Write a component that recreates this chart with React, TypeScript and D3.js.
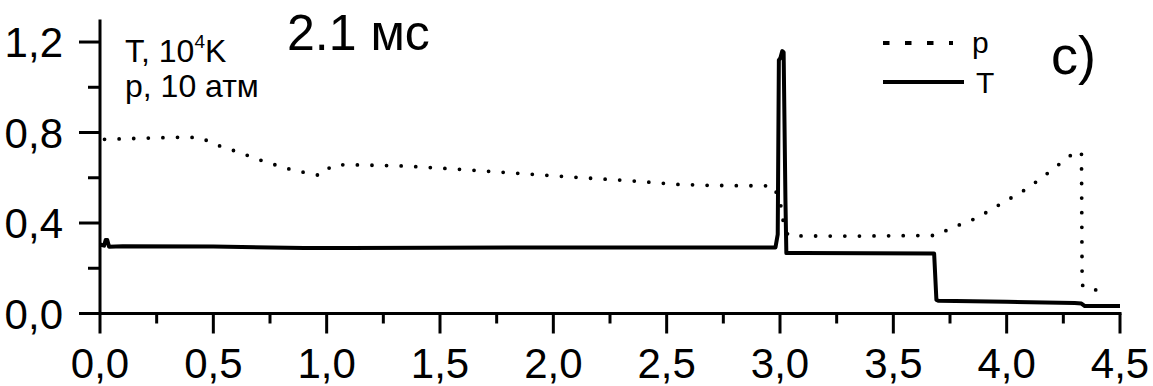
import { useMemo } from "react";
import * as d3 from "d3";

// T, 10^4 K (solid)
const tTime = [0, 0.018, 0.025, 0.032, 0.04, 0.1, 0.5, 0.9, 1.1, 2.0, 2.98, 2.99, 2.995, 3.002, 3.01, 3.016, 3.024, 3.028, 3.1, 3.68, 3.69, 3.7, 4.0, 4.3, 4.33, 4.345, 4.5];
const tValue = [0.305, 0.3, 0.325, 0.325, 0.295, 0.297, 0.296, 0.289, 0.29, 0.292, 0.292, 0.35, 1.12, 1.13, 1.16, 1.155, 0.5, 0.267, 0.267, 0.265, 0.06, 0.056, 0.052, 0.046, 0.044, 0.033, 0.033];

// p, 10 atm (dotted)
const pTime = [0.02, 0.2, 0.38, 0.45, 0.5, 0.62, 0.73, 0.85, 0.96, 0.98, 1.02, 1.08, 1.34, 1.59, 1.84, 2.1, 2.35, 2.54, 2.7, 2.97, 3.0, 3.02, 3.04, 3.3, 3.69, 3.75, 3.87, 3.98, 4.09, 4.19, 4.29, 4.33, 4.333, 4.36, 4.45];
const pValue = [0.77, 0.775, 0.78, 0.775, 0.75, 0.71, 0.67, 0.634, 0.612, 0.612, 0.652, 0.658, 0.652, 0.637, 0.62, 0.602, 0.586, 0.571, 0.566, 0.564, 0.5, 0.37, 0.343, 0.342, 0.345, 0.375, 0.423, 0.488, 0.552, 0.627, 0.705, 0.715, 0.126, 0.104, 0.104];

const xMajor = [0, 0.5, 1, 1.5, 2, 2.5, 3, 3.5, 4, 4.5];
const xMinor = [0.25, 0.75, 1.25, 1.75, 2.25, 2.75, 3.25, 3.75, 4.25];
const yMajor = [0, 0.4, 0.8, 1.2];
const yMinor = [0.2, 0.6, 1.0];

const fmt = (v: number) => v.toFixed(1).replace(".", ",");
const font = "'Liberation Sans', Arial, sans-serif";

export default function App() {
  const width = 1153;
  const height = 386;

  const x = d3.scaleLinear().domain([0, 4.5]).range([100, 1120]);
  const y = d3.scaleLinear().domain([0, 1.3]).range([313.5, 19.4]);

  const line = d3.line<[number, number]>()
    .x(d => x(d[0]))
    .y(d => y(d[1]));

  const tPath = useMemo(() => line(tTime.map((t, i) => [t, tValue[i]])), []);
  const pPath = useMemo(() => line(pTime.map((t, i) => [t, pValue[i]])), []);

  const y0 = y(0);
  const x0 = x(0);

  return (
    <svg width={width} height={height} style={{ position: "absolute", left: 0, top: 0 }} fontFamily={font}>
      <rect width={width} height={height} fill="#fff" />

      {/* axes */}
      <g stroke="#000" strokeWidth={3} strokeLinecap="butt">
        <line x1={x0} x2={x0} y1={y(1.3)} y2={y0 + 1.5} />
        <line x1={x0 - 1.5} x2={x(4.5) + 1.5} y1={y0} y2={y0} />
        {yMajor.map(v => (
          <line key={"ym" + v} x1={x0 - 21} x2={x0} y1={y(v)} y2={y(v)} />
        ))}
        {yMinor.map(v => (
          <line key={"yn" + v} x1={x0 - 12} x2={x0} y1={y(v)} y2={y(v)} />
        ))}
        {xMajor.map(v => (
          <line key={"xm" + v} x1={x(v)} x2={x(v)} y1={y0} y2={y0 + 20} />
        ))}
        {xMinor.map(v => (
          <line key={"xn" + v} x1={x(v)} x2={x(v)} y1={y0} y2={y0 + 10} />
        ))}
      </g>

      <g fontSize={42} fill="#000">
        {yMajor.map(v => (
          <text key={"yl" + v} x={63} y={y(v)} dy="0.36em" textAnchor="end">{fmt(v)}</text>
        ))}
        {xMajor.map(v => (
          <text key={"xl" + v} x={x(v)} y={378} textAnchor="middle">{fmt(v)}</text>
        ))}
      </g>

      {/* series */}
      <path d={pPath ?? ""} fill="none" stroke="#000" strokeWidth={3.8}
        strokeLinecap="round" strokeDasharray="0 14.6" />
      <path d={tPath ?? ""} fill="none" stroke="#000" strokeWidth={4}
        strokeLinejoin="round" />

      {/* annotations */}
      <text x={125} y={62} fontSize={32}>
        T, 10<tspan fontSize={19} dy={-14}>4</tspan><tspan dy={14}>K</tspan>
      </text>
      <text x={125} y={97} fontSize={32}>p, 10 атм</text>
      <text x={287} y={50} fontSize={50}>2.1 мс</text>

      {/* legend */}
      <line x1={883} x2={953} y1={43} y2={43} stroke="#000" strokeWidth={4} strokeDasharray="6.5 15.5" />
      <line x1={883} x2={964} y1={82} y2={82} stroke="#000" strokeWidth={4} />
      <text x={972} y={53} fontSize={30}>p</text>
      <text x={976} y={93} fontSize={30}>T</text>
      <text x={1051} y={74} fontSize={54}>c)</text>
    </svg>
  );
}
